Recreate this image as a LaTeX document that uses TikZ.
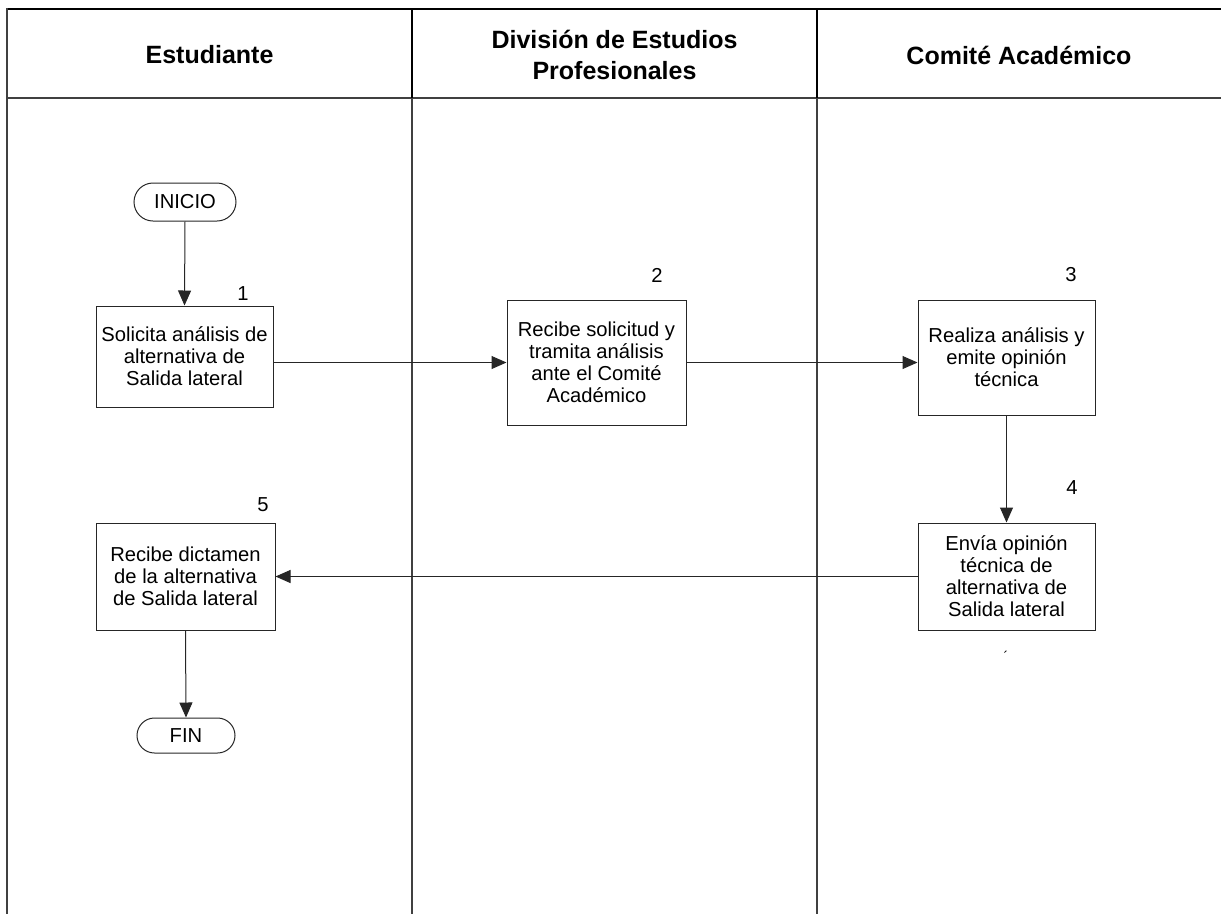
\documentclass[tikz,border=0pt]{standalone}
\usepackage{fontspec}
\setmainfont{Liberation Sans}
\usetikzlibrary{arrows.meta}
\tikzset{
  frameline/.style={draw=black!75, line width=1.3pt},
  headline/.style={draw=black, line width=2pt},
  procbox/.style={draw=black!85, line width=1pt, rectangle, align=center, inner sep=0pt,
    font=\fontsize{20.2}{22}\selectfont},
  terminal/.style={draw=black!85, line width=1pt, rectangle, rounded corners=19pt, inner sep=0pt,
    minimum height=38pt, font=\fontsize{20.2}{22}\selectfont},
  numlabel/.style={inner sep=0pt, font=\fontsize{20.2}{22}\selectfont},
  header/.style={inner sep=0pt, align=center, font=\fontsize{25}{30.5}\selectfont\bfseries},
  flow/.style={draw=black!85, line width=1pt, -{Triangle[length=15pt, width=13pt]}},
}
\begin{document}
\begin{tikzpicture}[x=1pt,y=-1pt]
\useasboundingbox (0,0) rectangle (1221,914);
% frame
\draw[headline] (7,8.5) -- (1221,8.5);
\draw[frameline] (7,8) -- (7,914);
\draw[frameline] (7,98) -- (1221,98);
\draw[headline] (412,8) -- (412,98);
\draw[frameline] (412,98) -- (412,914);
\draw[headline] (817,8) -- (817,98);
\draw[frameline] (817,98) -- (817,914);
% headers
\node[header] (h1) at (209.5,55) {Estudiante};
\node[header] (h2) at (614.5,55) {División de Estudios\\Profesionales};
\node[header] (h3) at (1019,55) {Comité Académico};
% nodes
\node[terminal, minimum width=102pt] (inicio) at (185,202) {INICIO};
\node[procbox, minimum width=177pt, minimum height=101pt] (b1) at (184.5,356.5) {Solicita análisis de\\alternativa de\\Salida lateral};
\node[numlabel] (n1) at (243,294) {1};
\node[procbox, minimum width=179pt, minimum height=125pt] (b2) at (596.5,362.5) {Recibe solicitud y\\tramita análisis\\ante el Comité\\Académico};
\node[numlabel] (n2) at (657,275) {2};
\node[procbox, minimum width=177pt, minimum height=115pt] (b3) at (1006.5,357.5) {Realiza análisis y\\emite opinión\\técnica};
\node[numlabel] (n3) at (1071,275) {3};
\node[procbox, minimum width=177pt, minimum height=107pt] (b4) at (1006.5,576.5) {Envía opinión\\técnica de\\alternativa de\\Salida lateral};
\node[numlabel] (n4) at (1072,488) {4};
\node[procbox, minimum width=179pt, minimum height=107pt] (b5) at (185.5,576.5) {Recibe dictamen\\de la alternativa\\de Salida lateral};
\node[numlabel] (n5) at (263,505) {5};
\node[terminal, minimum width=98pt, minimum height=35pt, rounded corners=17.5pt] (fin) at (186,735.5) {FIN};
\node[inner sep=0pt, font=\fontsize{14}{14}\selectfont] (mark) at (1006,656) {´};
% connectors
\draw[flow] (inicio.south) -- (b1.north);
\draw[flow] (b1.east |- b2.west) -- (b2.west);
\draw[flow] (b2.east) -- (b2.east -| b3.west);
\draw[flow] (b3.south) -- (b4.north);
\draw[flow] (b4.west) -- (b5.east);
\draw[flow] (b5.south) -- (fin.north);
\end{tikzpicture}
\end{document}
